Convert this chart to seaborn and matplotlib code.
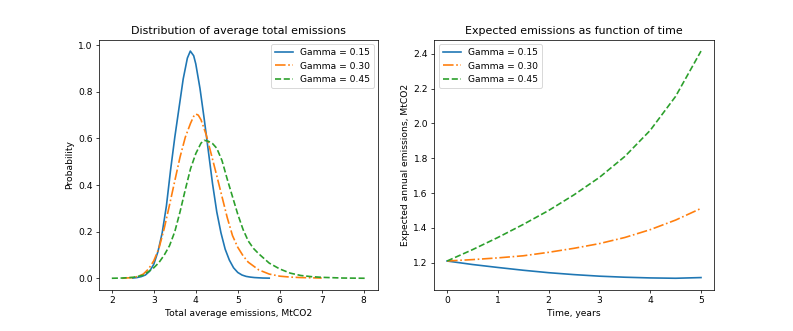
import numpy as np
import pandas as pd
import matplotlib
matplotlib.use("Agg")
import matplotlib.pyplot as plt
import seaborn as sns

# left panel: distribution of average total emissions
blue_x = [2.5, 2.6, 2.7, 2.8, 2.9, 3.0, 3.1, 3.2, 3.3, 3.4, 3.5, 3.6, 3.7, 3.8, 3.87,
          3.95, 4.0, 4.1, 4.2, 4.3, 4.4, 4.5, 4.6, 4.7, 4.8, 4.9, 5.0, 5.1, 5.2, 5.3,
          5.4, 5.5, 5.6, 5.75]
blue_y = [0.001, 0.003, 0.007, 0.014, 0.03, 0.06, 0.115, 0.195, 0.31, 0.465, 0.605,
          0.73, 0.855, 0.945, 0.975, 0.955, 0.92, 0.815, 0.685, 0.545, 0.405, 0.285,
          0.195, 0.125, 0.078, 0.045, 0.025, 0.014, 0.008, 0.005, 0.003, 0.002, 0.001,
          0.0005]

orange_x = [2.25, 2.5, 2.625, 2.75, 2.875, 3.0, 3.125, 3.25, 3.375, 3.5, 3.625, 3.75,
            3.875, 3.95, 4.0, 4.06, 4.125, 4.25, 4.375, 4.5, 4.625, 4.75, 4.875, 5.0,
            5.125, 5.25, 5.5, 5.75, 6.0, 6.25, 6.5, 6.75, 7.0]
orange_y = [0.0, 0.003, 0.008, 0.018, 0.04, 0.075, 0.13, 0.215, 0.315, 0.418, 0.52,
            0.605, 0.665, 0.695, 0.705, 0.70, 0.68, 0.615, 0.528, 0.44, 0.35, 0.26,
            0.183, 0.133, 0.097, 0.069, 0.036, 0.018, 0.009, 0.005, 0.003, 0.002, 0.001]

green_x = [2.0, 2.25, 2.5, 2.75, 3.0, 3.125, 3.25, 3.375, 3.5, 3.625, 3.75, 3.875, 4.0,
           4.125, 4.2, 4.3, 4.4, 4.5, 4.625, 4.75, 4.875, 5.0, 5.125, 5.25, 5.375, 5.5,
           5.75, 6.0, 6.25, 6.5, 6.75, 7.0, 7.5, 8.05]
green_y = [0.0, 0.001, 0.004, 0.013, 0.045, 0.068, 0.10, 0.14, 0.2, 0.285, 0.38,
           0.47, 0.535, 0.58, 0.592, 0.588, 0.578, 0.558, 0.505, 0.425, 0.35, 0.275,
           0.21, 0.16, 0.128, 0.105, 0.065, 0.04, 0.022, 0.012, 0.007, 0.004, 0.001, 0.0]

# right panel: expected annual emissions over time
years = [0.0, 0.5, 1.0, 1.5, 2.0, 2.5, 3.0, 3.5, 4.0, 4.5, 5.0]
exp_015 = [1.21, 1.19, 1.173, 1.157, 1.143, 1.132, 1.123, 1.117, 1.113, 1.111, 1.115]
exp_030 = [1.21, 1.218, 1.228, 1.24, 1.26, 1.283, 1.31, 1.345, 1.39, 1.445, 1.512]
exp_045 = [1.21, 1.275, 1.345, 1.42, 1.50, 1.59, 1.69, 1.81, 1.96, 2.155, 2.415]

labels = ["Gamma = 0.15", "Gamma = 0.30", "Gamma = 0.45"]
colors = ["#1f77b4", "#ff7f0e", "#2ca02c"]
styles = ["-", "-.", "--"]

dpi = 66
fig, (ax1, ax2) = plt.subplots(1, 2, figsize=(793 / dpi, 331 / dpi), dpi=dpi)
fig.subplots_adjust(left=0.125, right=0.9, top=0.88, bottom=0.125, wspace=0.2)

dens = [(blue_x, blue_y), (orange_x, orange_y), (green_x, green_y)]
for (x, y), lab, c, ls in zip(dens, labels, colors, styles):
    sns.lineplot(x=x, y=y, ax=ax1, color=c, linestyle=ls, linewidth=1.8, label=lab)
ax1.set_title("Distribution of average total emissions")
ax1.set_xlabel("Total average emissions, MtCO2")
ax1.set_ylabel("Probability")
ax1.legend(loc="upper right")

for y, lab, c, ls in zip([exp_015, exp_030, exp_045], labels, colors, styles):
    sns.lineplot(x=years, y=y, ax=ax2, color=c, linestyle=ls, linewidth=1.8, label=lab)
ax2.set_title("Expected emissions as function of time")
ax2.set_xlabel("Time, years")
ax2.set_ylabel("Expected annual emissions, MtCO2")
ax2.legend(loc="upper left")

fig.savefig("out.png", dpi=dpi)
